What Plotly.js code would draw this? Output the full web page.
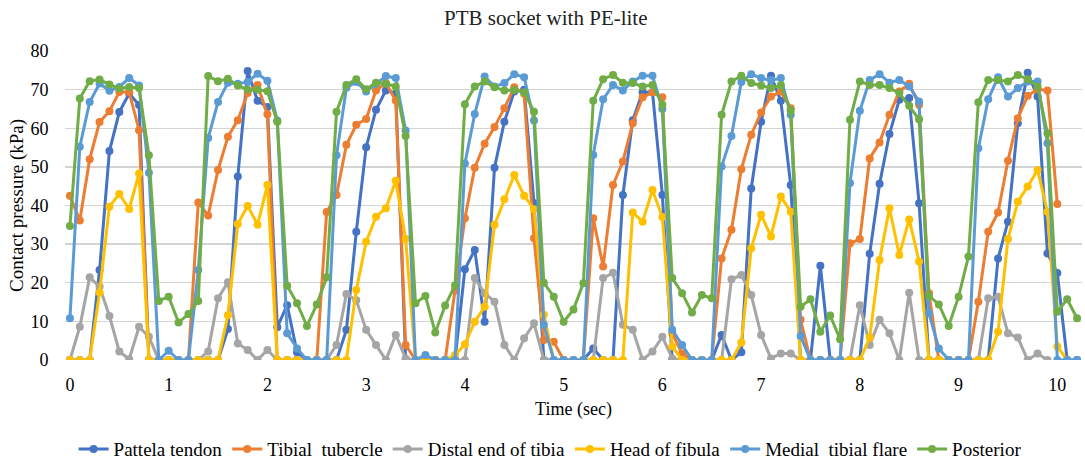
<!DOCTYPE html>
<html>
<head>
<meta charset="utf-8">
<script src="https://cdn.plot.ly/plotly-3.0.1.min.js"></script>
<style>html,body{margin:0;padding:0;background:#fff;}#chart{width:1085px;height:465px;}</style>
</head>
<body>
<div id="chart"></div>
<script>
const time = [0.0,0.1,0.2,0.3,0.4,0.5,0.6,0.7,0.8,0.9,1.0,1.1,1.2,1.3,1.4,1.5,1.6,1.7,1.8,1.9,2.0,2.1,2.2,2.3,2.4,2.5,2.6,2.7,2.8,2.9,3.0,3.1,3.2,3.3,3.4,3.5,3.6,3.7,3.8,3.9,4.0,4.1,4.2,4.3,4.4,4.5,4.6,4.7,4.8,4.9,5.0,5.1,5.2,5.3,5.4,5.5,5.6,5.7,5.8,5.9,6.0,6.1,6.2,6.3,6.4,6.5,6.6,6.7,6.8,6.9,7.0,7.1,7.2,7.3,7.4,7.5,7.6,7.7,7.8,7.9,8.0,8.1,8.2,8.3,8.4,8.5,8.6,8.7,8.8,8.9,9.0,9.1,9.2,9.3,9.4,9.5,9.6,9.7,9.8,9.9,10.0,10.1,10.2];

const patellaTendon = [0,0,0,23.3,54.1,64.2,69.0,66.0,0,0,0,0,0,0,0,0,8,47.5,74.8,67.1,65.5,8.5,14.2,2.0,0,0,0,0,7.8,33.2,55.1,64.8,69.8,69.0,0,0,0,0,0,0,23.5,28.5,9.9,49.8,61.7,69.5,70.0,40.6,0,0,0,0,0,3,0,0,42.7,62.1,69.3,69.3,42.7,0,0,0,0,0,6.5,0,2,44.4,61.7,73.6,67.1,45.3,0,0,24.4,0,0,0,0,27.5,45.6,58.5,67.4,67.8,40.6,0,0,0,0,0,0,0,26.3,35.8,61.3,74.4,68.2,27.6,22.5,0,0];

const tibialTubercle = [42.5,36.1,52.0,61.6,64.4,69.4,69.4,59.5,0,0,0,0,0,40.8,37.4,49.2,57.8,62.1,69.1,71.2,63.6,0,0,0,0,0,38.3,42.7,55.7,60.9,62.4,69.8,71.7,67.2,3.9,0,0,0,0,18,36.7,49.8,56.0,60.3,65.2,70.6,68.9,31.5,5.2,4.7,0,0,0,36.7,24.2,45.3,51.4,61.3,68.0,69.3,68.0,6.9,1.7,0,0,0,26.3,33.7,49.4,58.3,64.1,68.2,69.5,65.2,10.4,0,0,0,0,30.2,31.3,52.2,56.3,63.5,69.5,71.5,66.1,17.3,0,0,0,0,15.1,33.2,38.2,51.6,62.6,68.4,70.1,69.8,40.4];

const distalTibia = [0,8.6,21.4,19.0,11.4,2.2,0.2,8.6,6.0,0,0,0,0,0,2.2,16.0,20.1,4.3,2.6,0,2.6,0,0,0,0,0,0,3.9,17.1,15.5,7.8,3.9,0,6.5,0.4,0,0,0,0,0,0,21.2,17.3,15.1,3.9,0,5.6,9.5,0,0,0,0,0,0,21.2,22.6,9.1,7.8,0,2.2,6.0,0.4,0,0,0,0,0,20.9,22.0,16.8,6.5,0.4,1.7,1.7,0,0,0,0,0,0,14.2,3.9,10.4,6.9,0,17.4,0,0,0,0,0,0,0,16.0,16.4,6.9,5.8,0,1.7,0];

const headFibula = [0,0,0,17.5,39.7,43.0,39.1,48.3,0,0,0,0,0,0,0,0,11.6,35.2,39.9,35.0,45.3,0,0,0,0,0,0,0,0,18.1,30.6,37.1,39.3,46.4,31.3,0,0,0,0,1.3,4.1,9.9,13.8,35.0,41.6,47.9,42.5,39.0,11.7,0,0,0,0,0,0,0,0,38.2,35.8,44.0,37.0,3.5,0,0,0,0,0,0,4.5,28.9,37.6,32.0,42.3,38.4,0,0,0,0,0,0,0,5.8,25.9,39.3,27.2,36.4,25.5,0,0,0,0,0,0,0,7.3,31.3,41.0,44.9,49.2,38.4,3.5,0];

const medialTibialFlare = [10.8,55.2,66.8,71.6,69.7,70.7,73.0,71.1,48.5,0,2.4,0,0,23.3,57.5,66.8,71.8,71.5,72.0,74.1,72.3,62.0,6.9,3.0,0,0,0,53.0,70.5,72.0,69.5,71.5,73.5,73.0,59.4,0,1.3,0,0,0,50.9,63.7,73.4,70.8,71.7,74.0,73.2,62.0,9.1,0,0,0,0,53.1,67.5,71.2,69.8,72.1,73.6,73.6,65.0,7.8,3.9,0,0,0,50.1,58.0,72.0,74.0,73.0,72.4,73.0,63.5,6.2,0,0,0,0,45.8,64.5,72.5,74.0,71.8,72.5,70.8,66.9,12.1,3.0,0,0,0,54.8,67.5,73.2,68.2,70.4,72.1,72.1,56.1,0,0,0];

const posterior = [34.7,67.7,72.2,72.6,71.3,70.3,70.7,70.4,53.0,15.3,16.4,9.7,11.9,15.3,73.5,72.2,72.8,71.1,70.0,70.0,69.6,61.7,19.2,14.7,8.8,14.4,21.4,64.3,71.2,72.7,70.1,71.8,71.5,70.8,58.0,14.7,16.6,7.1,14.1,19.3,66.2,70.8,72.1,70.6,69.8,69.9,69.3,64.3,20.0,16.4,9.9,13.1,19.9,67.1,72.7,73.8,71.8,71.7,70.8,71.2,66.1,21.2,17.3,12.3,16.8,16.0,63.5,72.1,73.6,71.7,71.1,70.4,71.2,64.6,13.8,15.7,7.3,11.5,5.4,62.2,72.1,71.2,71.2,70.4,69.1,65.8,62.3,16.6,14.4,8.8,16.4,26.8,66.7,72.5,72.5,72.1,73.8,72.7,70.8,58.7,12.5,15.7,10.8];

const seriesNames = ['Pattela tendon','Tibial\u00A0 tubercle','Distal end of tibia','Head of fibula','Medial\u00A0 tibial flare','Posterior'];
const seriesData = [patellaTendon, tibialTubercle, distalTibia, headFibula, medialTibialFlare, posterior];
const seriesColors = ['#4472C4','#ED7D31','#A5A5A5','#FFC000','#5B9BD5','#70AD47'];

const traces = seriesData.map((vals, k) => ({
  type: 'scatter',
  mode: 'lines+markers',
  name: seriesNames[k],
  x: time.slice(0, vals.length),
  y: vals,
  line: {color: seriesColors[k], width: 3},
  marker: {color: seriesColors[k], size: 8, symbol: 'circle'},
  hoverinfo: 'x+y+name'
}));

const font = 'Liberation Serif, Times New Roman, serif';
const layout = {
  width: 1085, height: 465,
  margin: {l: 65, r: 3, t: 51, b: 105},
  paper_bgcolor: '#fff', plot_bgcolor: '#fff',
  font: {family: font, size: 18, color: '#000'},
  title: {text: 'PTB socket with PE-lite', font: {family: font, size: 21, color: '#222'}, x: 0.503, xanchor: 'center', y: 0.962, yanchor: 'middle'},
  xaxis: {
    range: [-0.05, 10.25], tickmode: 'linear', tick0: 0, dtick: 1,
    showgrid: false, zeroline: false, showline: false, automargin: false,
    ticks: 'outside', ticklen: 8, tickcolor: 'rgba(0,0,0,0)',
    tickfont: {family: font, size: 18, color: '#000'},
    title: {text: 'Time (sec)', font: {family: font, size: 18, color: '#000'}, standoff: 8}
  },
  yaxis: {
    range: [0, 80], tickmode: 'linear', tick0: 0, dtick: 10,
    showgrid: true, gridcolor: '#d4d4d4', gridwidth: 1.3,
    zeroline: false, showline: false, automargin: false,
    ticks: 'outside', ticklen: 12, tickcolor: 'rgba(0,0,0,0)',
    tickfont: {family: font, size: 18, color: '#000'},
    title: {text: 'Contact pressure (kPa)', font: {family: font, size: 19, color: '#000'}, standoff: 1}
  },
  showlegend: true,
  legend: {orientation: 'h', xref: 'container', yref: 'container', x: 0.507, xanchor: 'center', y: 0.034, yanchor: 'middle',
           font: {family: font, size: 19, color: '#000'}, itemwidth: 30, tracegroupgap: 0}
};

Plotly.newPlot('chart', traces, layout, {displayModeBar: false, staticPlot: true});
</script>
</body>
</html>
